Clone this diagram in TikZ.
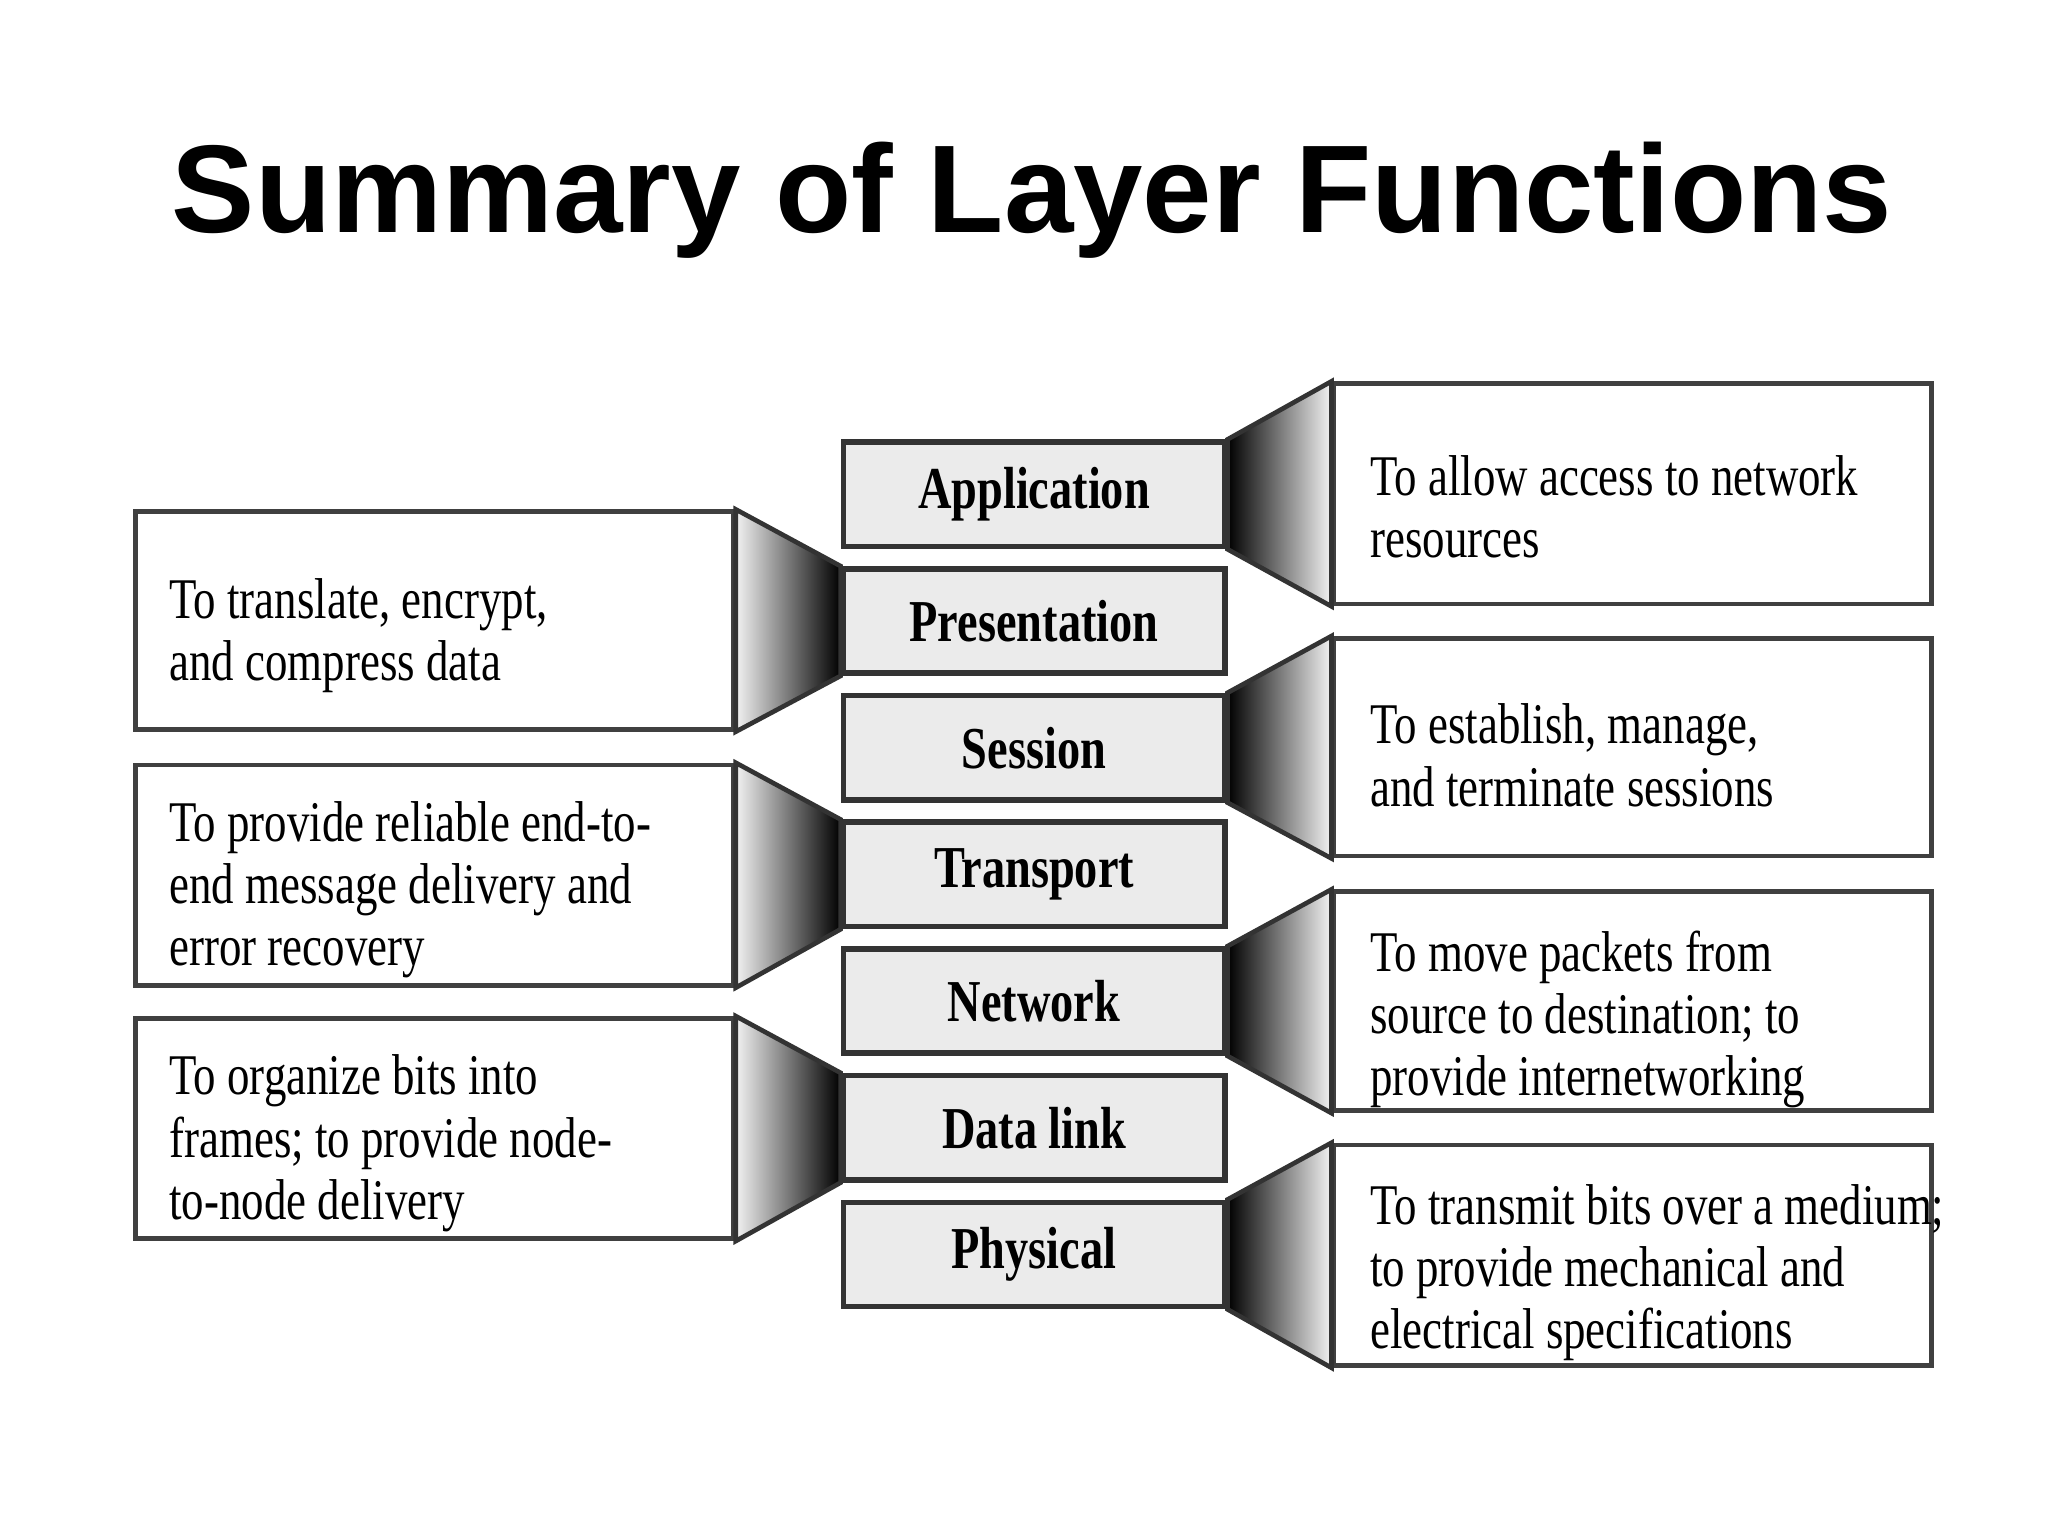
\documentclass[tikz,border=0pt]{standalone}
\usepackage{fontspec}
\setmainfont{Liberation Serif}
\newfontfamily\cond{Liberation Serif}[FakeStretch=0.78]
\newfontfamily\titlef{Liberation Sans}
\begin{document}
\begin{tikzpicture}[x=0.01cm,y=-0.01cm,
  layer/.style={draw=black!80,line width=1.2pt,fill=black!8,minimum width=289*0.01cm,minimum height=79*0.01cm,inner sep=0pt,anchor=north west,font=\cond\bfseries\fontsize{12.8}{15}\selectfont},
  desc/.style={draw=black!75,line width=1pt,fill=white,minimum width=453*0.01cm,anchor=north west,inner sep=0pt},
  txt/.style={anchor=north west,align=left,font=\cond\fontsize{12.4}{13.4}\selectfont},
  conL/.style={left color=black!5,right color=black,draw=black!80,line width=1pt},
  conR/.style={left color=black,right color=black!5,draw=black!80,line width=1pt}]
\useasboundingbox (0,0) rectangle (1552,1164);
\node[font=\titlef\bfseries\fontsize{26.9}{32}\selectfont] (title) at (782,152) {Summary of Layer Functions};
% layers
\foreach \n/\t [count=\i from 0] in {app/Application,pre/Presentation,ses/Session,tra/Transport,net/Network,dat/Data link,phy/Physical}{
  \node[layer] (\n) at (637,333+96*\i) {\t};
}
% left descriptions
\node[desc,minimum height=165*0.01cm] (L1) at (101,386) {};
\node[desc,minimum height=167*0.01cm] (L2) at (101,578) {};
\node[desc,minimum height=167*0.01cm] (L3) at (101,770) {};
% right descriptions
\node[desc,minimum height=167*0.01cm] (R1) at (1009,289) {};
\node[desc,minimum height=165*0.01cm] (R2) at (1009,482) {};
\node[desc,minimum height=166*0.01cm] (R3) at (1009,674) {};
\node[desc,minimum height=167*0.01cm] (R4) at (1009,866) {};
% connectors
\foreach \a/\b in {L1/pre,L2/tra,L3/dat}{
  \path[conL] (\a.north east) -- (\b.north west) -- (\b.south west) -- (\a.south east) -- cycle;
}
\foreach \a/\b in {app/R1,ses/R2,net/R3,phy/R4}{
  \path[conR] (\a.north east) -- (\b.north west) -- (\b.south west) -- (\a.south east) -- cycle;
}
% texts
\node[txt] (tL1) at (116,426) {To translate, encrypt,\\and compress data};
\node[txt] (tL2) at (116,595) {To provide reliable end-to-\\end message delivery and\\error recovery};
\node[txt] (tL3) at (116,787) {To organize bits into\\frames; to provide node-\\to-node delivery};
\node[txt] (tR1) at (1026,333) {To allow access to network\\resources};
\node[txt] (tR2) at (1026,521) {To establish, manage,\\and terminate sessions};
\node[txt] (tR3) at (1026,693) {To move packets from\\source to destination; to\\provide internetworking};
\node[txt] (tR4) at (1026,885) {To transmit bits over a medium;\\to provide mechanical and\\electrical specifications};
\end{tikzpicture}
\end{document}
